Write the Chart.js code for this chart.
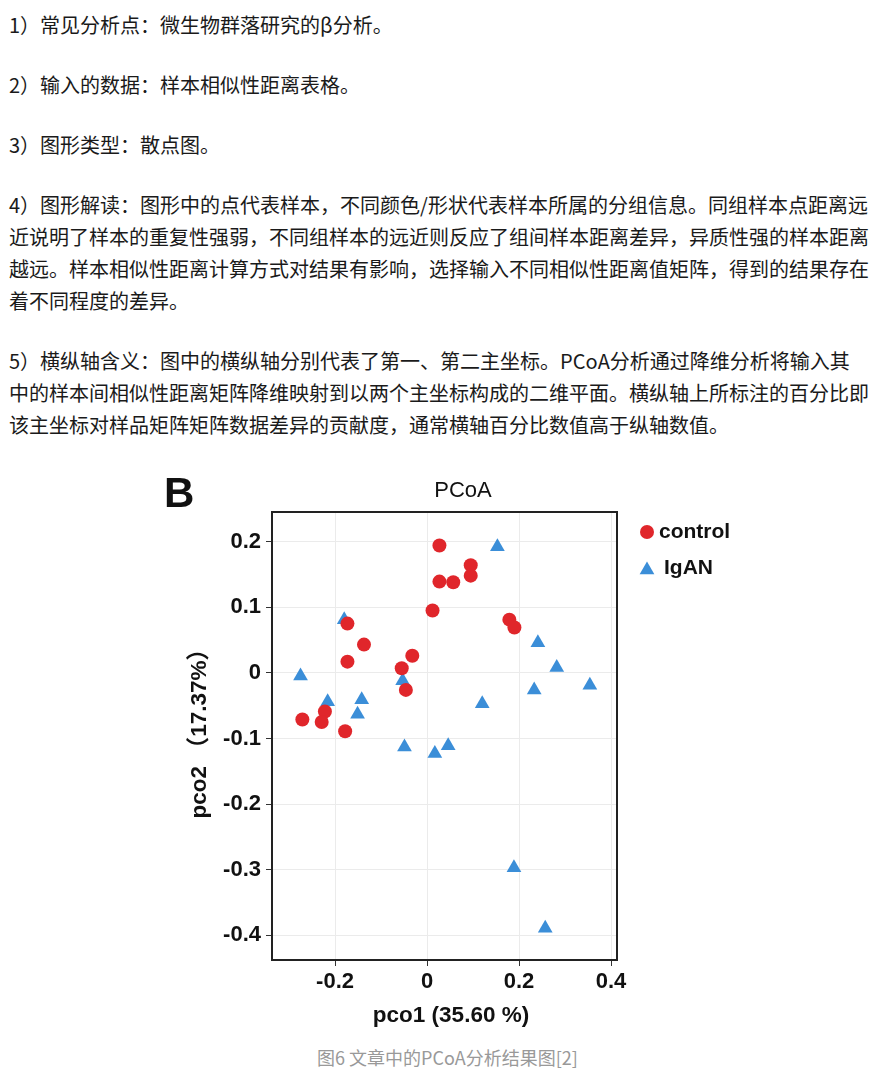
<!DOCTYPE html>
<html lang="zh-CN">
<head>
<meta charset="utf-8">
<title>PCoA</title>
<script src="https://cdn.jsdelivr.net/npm/chart.js@4.4.1/dist/chart.umd.min.js"></script>
<style>
  html, body { margin: 0; padding: 0; background: #fff; }
  body { width: 895px; height: 1075px; position: relative; overflow: hidden; }
  #text {
    position: absolute; left: 9px; top: 9px;
    font-family: 'Noto Sans CJK SC', sans-serif;
    font-size: 20px; line-height: 32px; color: #1a1a1a;
    white-space: nowrap;
  }
  #text p { margin: 0 0 28px 0; }
  #chartBox { position: absolute; left: 150px; top: 465px; width: 620px; height: 575px; }
  #caption {
    position: absolute; left: 0; top: 1045px; width: 895px;
    text-align: center; font-family: 'Noto Sans CJK SC', sans-serif;
    font-size: 18px; line-height: 24px; color: #999;
  }
</style>
</head>
<body>
<div id="text">
  <p>1）常见分析点：微生物群落研究的β分析。</p>
  <p>2）输入的数据：样本相似性距离表格。</p>
  <p>3）图形类型：散点图。</p>
  <p>4）图形解读：图形中的点代表样本，不同颜色/形状代表样本所属的分组信息。同组样本点距离远<br>近说明了样本的重复性强弱，不同组样本的远近则反应了组间样本距离差异，异质性强的样本距离<br>越远。样本相似性距离计算方式对结果有影响，选择输入不同相似性距离值矩阵，得到的结果存在<br>着不同程度的差异。</p>
  <p>5）横纵轴含义：图中的横纵轴分别代表了第一、第二主坐标。PCoA分析通过降维分析将输入其<br>中的样本间相似性距离矩阵降维映射到以两个主坐标构成的二维平面。横纵轴上所标注的百分比即<br>该主坐标对样品矩阵矩阵数据差异的贡献度，通常横轴百分比数值高于纵轴数值。</p>
</div>

<div id="chartBox"><canvas id="pcoaChart" width="620" height="575"></canvas></div>
<div id="caption">图6 文章中的PCoA分析结果图[2]</div>

<script>
// ==================== DATOS ====================
const panelLetter = 'B';
const chartTitle = 'PCoA';
const xTitle = 'pco1 (35.60 %)';
const yTitle = 'pco2 （17.37%）';
const groupNames = ['control', 'IgAN'];

const controlX = [0.027, 0.027, 0.057, 0.095, 0.095, 0.012, 0.179, 0.190, -0.173, -0.137, -0.173, -0.032, -0.055, -0.046, -0.271, -0.222, -0.229, -0.178];
const controlY = [0.194, 0.139, 0.138, 0.164, 0.148, 0.095, 0.081, 0.069, 0.075, 0.043, 0.017, 0.026, 0.007, -0.026, -0.071, -0.059, -0.075, -0.089];

const iganX = [0.153, -0.180, 0.241, 0.282, 0.354, 0.233, -0.275, -0.216, -0.142, -0.151, -0.053, 0.120, -0.049, 0.017, 0.046, 0.189, 0.257];
const iganY = [0.192, 0.081, 0.046, 0.008, -0.019, -0.026, -0.005, -0.044, -0.041, -0.063, -0.012, -0.047, -0.113, -0.123, -0.111, -0.297, -0.389];

const xTicks = [-0.2, 0, 0.2, 0.4];
const yTicks = [0.2, 0.1, 0, -0.1, -0.2, -0.3, -0.4];

const xMin = -0.337, xMax = 0.413;
const yMin = -0.4375, yMax = 0.245;

const RED = '#e0262b';
const BLUE = '#3b8ed8';
const FONT = "'Liberation Sans', Arial, Helvetica, sans-serif";

// ==================== UTILIDADES ====================
function toPoints(xs, ys) {
    return xs.map((x, i) => ({ x: x, y: ys[i] }));
}

function tickLabel(v) {
    return v === 0 ? '0' : v.toFixed(1);
}

function drawMarker(ctx, style, x, y, r, color) {
    ctx.fillStyle = color;
    ctx.beginPath();
    if (style === 'triangle') {
        let rad = 0;
        ctx.moveTo(x + Math.sin(rad) * r, y - Math.cos(rad) * r);
        rad += 2 * Math.PI / 3;
        ctx.lineTo(x + Math.sin(rad) * r, y - Math.cos(rad) * r);
        rad += 2 * Math.PI / 3;
        ctx.lineTo(x + Math.sin(rad) * r, y - Math.cos(rad) * r);
        ctx.closePath();
    } else {
        ctx.arc(x, y, r, 0, Math.PI * 2);
    }
    ctx.fill();
}

// marco, letra del panel, títulos y leyenda
const extrasPlugin = {
    id: 'extras',
    afterDatasetsDraw(chart) {
        const { ctx, chartArea: a } = chart;
        ctx.save();
        ctx.strokeStyle = '#222';
        ctx.lineWidth = 2;
        ctx.strokeRect(a.left, a.top, a.right - a.left, a.bottom - a.top);

        ctx.fillStyle = '#111';
        ctx.textBaseline = 'alphabetic';
        ctx.textAlign = 'left';
        ctx.font = 'bold 42px ' + FONT;
        ctx.fillText(panelLetter, 14, 42);

        ctx.textAlign = 'center';
        ctx.font = '22px ' + FONT;
        ctx.fillText(chartTitle, 313, 32);

        // títulos de ejes
        ctx.textBaseline = 'middle';
        ctx.font = 'bold 22.5px ' + FONT;
        ctx.fillText(xTitle, 301, 551);
        ctx.save();
        ctx.translate(50, 263);
        ctx.rotate(-Math.PI / 2);
        ctx.fillText(yTitle, 0, 0);
        ctx.restore();

        // leyenda
        ctx.textBaseline = 'alphabetic';
        ctx.textAlign = 'left';
        ctx.font = 'bold 21px ' + FONT;
        const rows = [
            { cx: 497, cy: 67, tx: 509, ty: 73 },
            { cx: 497, cy: 105, tx: 514, ty: 109 }
        ];
        chart.data.datasets.forEach((ds, i) => {
            const r = rows[i];
            drawMarker(ctx, ds.pointStyle, r.cx, r.cy, ds.pointRadius, ds.backgroundColor);
            ctx.fillStyle = '#111';
            ctx.fillText(ds.label, r.tx, r.ty);
        });
        ctx.restore();
    }
};

// ==================== GRÁFICO ====================
Chart.defaults.font.family = FONT;
Chart.defaults.color = '#111';

const ctx = document.getElementById('pcoaChart').getContext('2d');
const pcoaChart = new Chart(ctx, {
    type: 'scatter',
    data: {
        datasets: [
            {
                label: groupNames[0],
                data: toPoints(controlX, controlY),
                pointStyle: 'circle',
                pointRadius: 7,
                pointBorderWidth: 0,
                backgroundColor: RED,
                borderColor: RED
            },
            {
                label: groupNames[1],
                data: toPoints(iganX, iganY),
                pointStyle: 'triangle',
                pointRadius: 8.5,
                pointBorderWidth: 0,
                backgroundColor: BLUE,
                borderColor: BLUE
            }
        ]
    },
    options: {
        responsive: false,
        animation: false,
        devicePixelRatio: 1,
        layout: { padding: { left: 0, top: 47, right: 153, bottom: 0 } },
        plugins: {
            legend: { display: false },
            tooltip: { enabled: false },
            title: { display: false }
        },
        scales: {
            x: {
                type: 'linear',
                min: xMin,
                max: xMax,
                afterBuildTicks: s => { s.ticks = xTicks.map(v => ({ value: v })); },
                afterFit: s => { s.height = 80; },
                border: { display: false },
                grid: { color: '#ebebeb', lineWidth: 1, tickColor: '#333', tickLength: 6 },
                ticks: {
                    font: { size: 22, weight: 'bold' },
                    color: '#111',
                    padding: 3,
                    maxRotation: 0,
                    callback: v => tickLabel(v)
                },
                title: { display: false }
            },
            y: {
                type: 'linear',
                min: yMin,
                max: yMax,
                afterBuildTicks: s => { s.ticks = yTicks.map(v => ({ value: v })); },
                afterFit: s => { s.width = 122; },
                border: { display: false },
                grid: { color: '#ebebeb', lineWidth: 1, tickColor: '#333', tickLength: 6 },
                ticks: {
                    font: { size: 22, weight: 'bold' },
                    color: '#111',
                    padding: 5,
                    callback: v => tickLabel(v)
                },
                title: { display: false }
            }
        }
    },
    plugins: [extrasPlugin]
});
</script>
</body>
</html>
